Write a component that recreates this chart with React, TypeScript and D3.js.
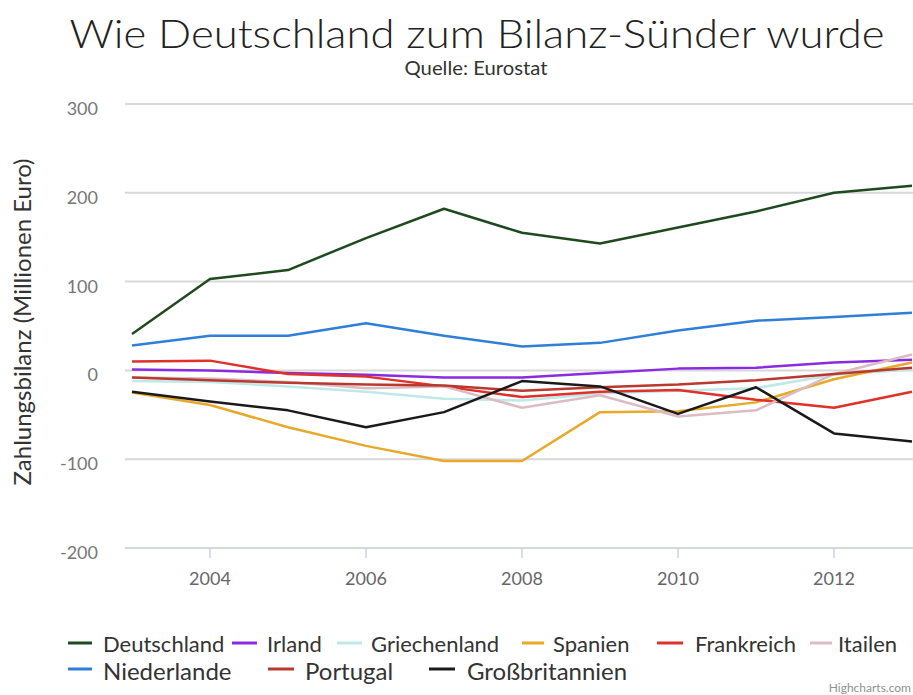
import React from "react";
import * as d3 from "d3";

const years = [2003, 2004, 2005, 2006, 2007, 2008, 2009, 2010, 2011, 2012, 2013];

const deutschland = [41, 103, 113, 149, 182, 155, 143, 161, 179, 200, 208];
const irland = [1, 0, -3, -5, -8, -8, -3, 2, 3, 9, 12];
const griechenland = [-12, -13, -18, -24, -32, -34, -26, -23, -20, -5, 1];
const spanien = [-25, -39, -64, -85, -102, -102, -47, -46, -36, -10, 9];
const frankreich = [10, 11, -4, -7, -18, -30, -24, -22, -33, -42, -24];
const itailen = [-8, -9, -13, -20, -18, -42, -28, -52, -45, -4, 18];
const niederlande = [28, 39, 39, 53, 39, 27, 31, 45, 56, 60, 65];
const portugal = [-8, -11, -14, -16, -17, -23, -19, -16, -11, -4, 3];
const grossbritannien = [-24, -35, -45, -64, -47, -12, -18, -49, -19, -71, -80];

const seriesNames = ["Deutschland", "Irland", "Griechenland", "Spanien", "Frankreich", "Itailen", "Niederlande", "Portugal", "Großbritannien"];
const seriesValues = [deutschland, irland, griechenland, spanien, frankreich, itailen, niederlande, portugal, grossbritannien];
const seriesColors = ["#1f4a1f", "#8a2be2", "#bfe8e8", "#e8a82a", "#e0302a", "#dcbcc4", "#2f7ed8", "#b8392e", "#1a1a1a"];

const yTicks = [-200, -100, 0, 100, 200, 300];
const xTicks = [2004, 2006, 2008, 2010, 2012];

// legend layout (row, text x, symbol start, symbol end)
const legendLayout = [
  { row: 0, x: 103, s0: 68, s1: 92 },
  { row: 0, x: 267, s0: 232, s1: 257 },
  { row: 0, x: 371, s0: 337, s1: 362 },
  { row: 0, x: 553, s0: 522, s1: 544 },
  { row: 0, x: 695, s0: 657, s1: 683 },
  { row: 0, x: 838, s0: 810, s1: 832 },
  { row: 1, x: 103, s0: 68, s1: 92 },
  { row: 1, x: 305, s0: 268, s1: 294 },
  { row: 1, x: 467, s0: 429, s1: 455 },
];

const FONT = "Lato, 'Open Sans', sans-serif";

export default function App() {
  const W = 913;
  const H = 695;
  const x = d3.scaleLinear().domain([2003, 2013]).range([132, 912]);
  const y = d3.scaleLinear().domain([-200, 300]).range([548, 104]);
  const line = d3
    .line<number>()
    .x((_, i) => x(years[i]))
    .y((d) => y(d));

  return (
    <svg
      width={W}
      height={H}
      style={{ position: "absolute", left: 0, top: 0, background: "#fff" }}
      fontFamily={FONT}
    >
      <rect x={0} y={0} width={W} height={H} fill="#fff" />
      <text x={477} y={48} textAnchor="middle" fontSize={40} fill="#222" fontWeight={300} textLength={815} lengthAdjust="spacingAndGlyphs">
        Wie Deutschland zum Bilanz-Sünder wurde
      </text>
      <text x={476} y={75} textAnchor="middle" fontSize={19} fill="#333" textLength={143} lengthAdjust="spacingAndGlyphs">
        Quelle: Eurostat
      </text>

      {/* gridlines */}
      {yTicks.map((t) => (
        <g key={t}>
          <line x1={125} x2={W} y1={y(t)} y2={y(t)} stroke={t === -200 ? "#d0d8e0" : "#d8d8d8"} strokeWidth={2} />
          <text x={98} y={y(t) + 11} textAnchor="end" fontSize={18} fill="#777">
            {t}
          </text>
        </g>
      ))}
      {xTicks.map((t) => (
        <g key={t}>
          <line x1={x(t)} x2={x(t)} y1={y(-200)} y2={y(-200) + 10} stroke="#c8d4e0" strokeWidth={1.5} />
          <text x={x(t)} y={585} textAnchor="middle" fontSize={18} fill="#666">
            {t}
          </text>
        </g>
      ))}

      <text transform={`translate(31,${322}) rotate(-90)`} textAnchor="middle" fontSize={24} fill="#333">
        Zahlungsbilanz (Millionen Euro)
      </text>

      {/* series */}
      {seriesValues.map((vals, i) => (
        <path key={seriesNames[i]} d={line(vals) || ""} fill="none" stroke={seriesColors[i]} strokeWidth={2.5} strokeLinejoin="round" />
      ))}

      {/* legend */}
      {seriesNames.map((name, i) => {
        const l = legendLayout[i];
        const cy = l.row === 0 ? 643 : 669;
        return (
          <g key={name}>
            <line x1={l.s0} x2={l.s1} y1={cy} y2={cy} stroke={seriesColors[i]} strokeWidth={3} />
            <text x={l.x} y={l.row === 0 ? 652 : 680} fontSize={l.row === 0 ? 22 : 24} fill="#333">
              {name}
            </text>
          </g>
        );
      })}

      <text x={911} y={692} textAnchor="end" fontSize={12} fill="#909090">
        Highcharts.com
      </text>
    </svg>
  );
}
